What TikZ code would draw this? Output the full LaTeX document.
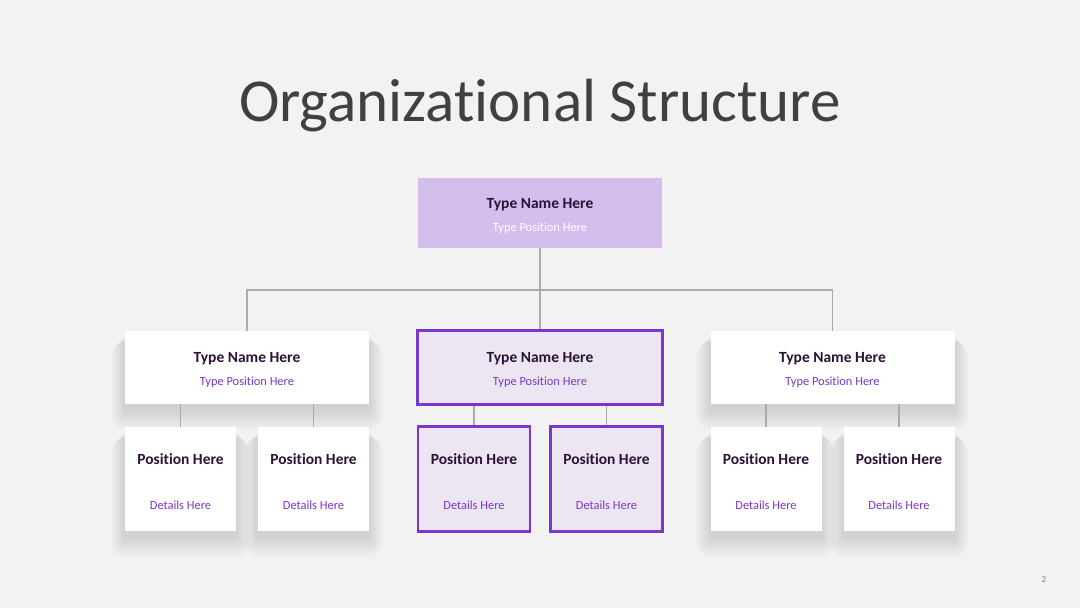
\documentclass[tikz,border=0pt]{standalone}
\usepackage{fontspec}
\setmainfont{Carlito}[Ligatures={NoCommon,NoContextual}]
\pgfdeclarelayer{background}
\pgfsetlayers{background,main}
\definecolor{bg}{HTML}{F2F2F2}
\definecolor{topfill}{HTML}{D4BEEE}
\definecolor{midfill}{HTML}{ECE6F2}
\definecolor{purp}{HTML}{7B36CC}
\definecolor{dark}{HTML}{2B1236}
\definecolor{linegray}{HTML}{AAAAAA}
\definecolor{titlegray}{HTML}{404040}
\tikzset{
  box/.style={draw=none, fill=white, minimum width=244pt, minimum height=73pt, inner sep=0pt},
  hibox/.style={draw=purp, line width=1.6pt, fill=midfill, minimum width=244pt, minimum height=73pt, inner sep=0pt},
  sbox/.style={draw=none, fill=white, minimum width=111pt, minimum height=104pt, inner sep=0pt},
  hsbox/.style={draw=purp, line width=1.6pt, fill=midfill, minimum width=111pt, minimum height=104pt, inner sep=0pt},
  nametxt/.style={font=\fontsize{15.5}{17}\selectfont\bfseries, text=dark},
  postxt/.style={font=\fontsize{12.4}{14}\selectfont, text=purp},
  conn/.style={draw=linegray, line width=1.5pt},
}
\newcommand{\mysoftshadow}[1]{%
  \begin{pgfonlayer}{background}
  \foreach \k in {1,...,16}{
    \fill[black, opacity=0.006, rounded corners=\k pt]
      ([xshift=-0.9*\k pt, yshift=-6-0.3*\k pt]#1.north west) rectangle ([xshift=0.9*\k pt, yshift=-6-1.3*\k pt]#1.south east);
  }
  \end{pgfonlayer}}
\begin{document}
\begin{tikzpicture}[x=1pt,y=-1pt]
\begin{pgfonlayer}{background}
\fill[bg] (0,0) rectangle (1080,608);
\end{pgfonlayer}
\useasboundingbox (0,0) rectangle (1080,608);
\node[font=\fontsize{61}{70}\selectfont, text=titlegray] (title) at (540,106) {Organizational Structure};
\node[font=\fontsize{9}{10}\selectfont, text=gray] (pg) at (1044,580) {2};
% top
\node[fill=topfill, minimum width=244pt, minimum height=70pt, inner sep=0pt] (top) at (540,213) {};
\node[nametxt] (topn) at (540,205) {Type Name Here};
\node[font=\fontsize{12.4}{14}\selectfont, text=white] (topp) at (540,228) {Type Position Here};
% level 2
\node[box] (L) at (247,367.5) {};
\node[hibox] (M) at (540,367.5) {};
\node[box] (R) at (832.5,367.5) {};
\foreach \n/\x in {L/247, M/540, R/832.5}{
  \node[nametxt] (\n n) at (\x,359) {Type Name Here};
  \node[postxt] (\n p) at (\x,382) {Type Position Here};
}
% level 3
\node[sbox] (L1) at (180.5,479) {};
\node[sbox] (L2) at (313.5,479) {};
\node[hsbox] (M1) at (474,479) {};
\node[hsbox] (M2) at (606.5,479) {};
\node[sbox] (R1) at (766,479) {};
\node[sbox] (R2) at (899,479) {};
\foreach \n/\x in {L1/180.5, L2/313.5, M1/474, M2/606.5, R1/766, R2/899}{
  \node[nametxt] (\n n) at (\x,459) {Position Here};
  \node[postxt] (\n d) at (\x,505) {Details Here};
}
\mysoftshadow{L}
\mysoftshadow{R}
\mysoftshadow{L1}
\mysoftshadow{L2}
\mysoftshadow{R1}
\mysoftshadow{R2}
% connectors
\coordinate (bus) at (540,290);
\draw[conn] (top.south) -- (M.north);
\draw[conn] (L.north) -- (L.north |- bus) -- (R.north |- bus) -- (R.north);
\draw[conn] (L1.north |- L.south) -- (L1.north);
\draw[conn] (L2.north |- L.south) -- (L2.north);
\draw[conn] (M1.north |- M.south) -- (M1.north);
\draw[conn] (M2.north |- M.south) -- (M2.north);
\draw[conn] (R1.north |- R.south) -- (R1.north);
\draw[conn] (R2.north |- R.south) -- (R2.north);
% redraw highlight boxes' borders above lines
\draw[draw=purp, line width=1.6pt] (M.south west) rectangle (M.north east);
\draw[draw=purp, line width=1.6pt] (M1.south west) rectangle (M1.north east);
\draw[draw=purp, line width=1.6pt] (M2.south west) rectangle (M2.north east);
\end{tikzpicture}
\end{document}
